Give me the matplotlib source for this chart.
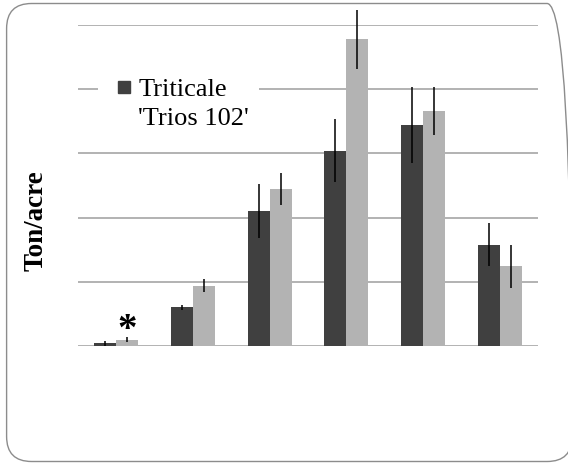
import matplotlib

matplotlib.use("Agg")
import matplotlib.pyplot as plt
import numpy as np
from matplotlib.patches import FancyBboxPatch, Rectangle

# six harvest groups, values in gridline units (no tick labels shown)
groups = ["1", "2", "3", "4", "5", "6"]
dark_vals = [0.04, 0.60, 2.10, 3.04, 3.44, 1.58]
dark_err = [0.04, 0.04, 0.42, 0.49, 0.59, 0.34]
light_vals = [0.10, 0.94, 2.44, 4.78, 3.66, 1.24]
light_err = [0.04, 0.10, 0.25, 0.46, 0.37, 0.33]
legend_lines = ["Triticale", "'Trios 102'"]
ylabel = "Ton/acre"

DARK = "#404040"
LIGHT = "#b3b3b3"
GRID = "#a6a6a6"

fig = plt.figure(figsize=(5.68, 4.63), dpi=100)
ax = fig.add_axes([78 / 568, 117 / 463, 460 / 568, 321 / 463])

x = np.arange(len(groups))
w = 0.287
ax.bar(x - w / 2, dark_vals, w, color=DARK, zorder=3)
ax.bar(x + w / 2, light_vals, w, color=LIGHT, zorder=3)
ax.errorbar(x - w / 2, dark_vals, yerr=dark_err, fmt="none", ecolor="black",
            elinewidth=1.1, capsize=0, zorder=4, clip_on=False)
ax.errorbar(x + w / 2, light_vals, yerr=light_err, fmt="none", ecolor="black",
            elinewidth=1.1, capsize=0, zorder=4, clip_on=False)

ax.set_xlim(-0.5, len(groups) - 0.5)
ax.set_ylim(0, 5)
for y in range(0, 6):
    ax.axhline(y, color=GRID, lw=1.2, zorder=1)
ax.set_xticks([])
ax.set_yticks([])
for s in ax.spines.values():
    s.set_visible(False)

# significance mark over first light bar
ax.text(x[0] + w / 2, light_vals[0], "*", ha="center", va="baseline",
        fontsize=28, fontweight="bold", family="Liberation Serif", zorder=5)

# legend drawn by hand so the swatch sits beside the first line
ax.add_patch(Rectangle((0.043, 0.66), 0.35, 0.2, transform=ax.transAxes,
                       facecolor="white", edgecolor="none", zorder=2))
ax.plot([0.0993], [0.807], "s", ms=9.1, color=DARK, transform=ax.transAxes,
        clip_on=False, zorder=5)
ax.text(0.131, 0.780, legend_lines[0], transform=ax.transAxes, ha="left",
        va="baseline", fontsize=19, family="Liberation Serif", zorder=5)
ax.text(0.131, 0.688, legend_lines[1], transform=ax.transAxes, ha="left",
        va="baseline", fontsize=19, family="Liberation Serif", zorder=5)

fig.text(36 / 568, 1 - 221 / 463, ylabel, rotation=90, ha="center", va="center",
         fontsize=19.5, fontweight="bold", family="Liberation Serif")

# rounded chart frame (right edge runs just off the canvas)
frame = FancyBboxPatch((6.6 / 100, 1.5 / 100), 5.655, 4.58,
                       boxstyle="round,pad=0,rounding_size=0.25",
                       transform=fig.dpi_scale_trans, facecolor="none",
                       edgecolor="#8c8c8c", lw=1.0, clip_on=False)
fig.patches.append(frame)

fig.savefig("out.png", dpi=100)
